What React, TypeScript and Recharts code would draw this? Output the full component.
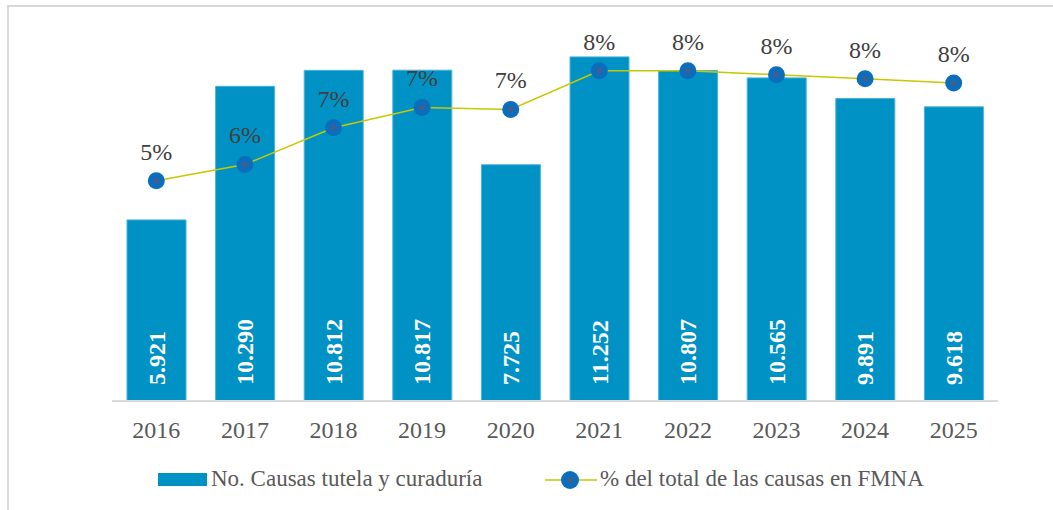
import { ComposedChart, XAxis, YAxis, Bar, Line, LabelList, Legend } from "recharts";

const years = ["2016", "2017", "2018", "2019", "2020", "2021", "2022", "2023", "2024", "2025"];
const causas = [5921, 10290, 10812, 10817, 7725, 11252, 10807, 10565, 9891, 9618];
const porcentaje = [0.054, 0.058, 0.067, 0.072, 0.0715, 0.081, 0.081, 0.08, 0.079, 0.078];

const barName = "No. Causas tutela y curaduría";
const lineName = "% del total de las causas en FMNA";

const data = years.map((year, i) => ({ year, causas: causas[i], pct: porcentaje[i] }));

const FONT = "'Liberation Serif', 'Times New Roman', serif";
const BAR_COLOR = "#0092c5";
const LINE_COLOR = "#c8c800";
const DOT_COLOR = "#0a6ebd";

const fmtMiles = (v: number) => String(v).replace(/\B(?=(\d{3})+(?!\d))/g, ".");

const BarValue = (props: any) => {
  const { x, y, width, height, value } = props;
  const cx = x + width / 2;
  const cy = y + height - 16;
  return (
    <text
      x={cx}
      y={cy}
      transform={`rotate(-90 ${cx} ${cy})`}
      textAnchor="start"
      dominantBaseline="central"
      fill="#fff"
      fontWeight="bold"
      fontSize={24}
      fontFamily={FONT}
    >
      {fmtMiles(value)}
    </text>
  );
};

const PctValue = (props: any) => {
  const { x, y, value } = props;
  return (
    <text x={x} y={y - 21} textAnchor="middle" fill="#404040" fontSize={24} fontFamily={FONT}>
      {Math.round(value * 100) + "%"}
    </text>
  );
};

const Dot = (props: any) => {
  const { cx, cy, index } = props;
  return (
    <g key={`dot-${index}`}>
      <circle cx={cx} cy={cy} r={8.5} fill={DOT_COLOR} />
      <circle cx={cx} cy={cy} r={3} fill="#3f5f8f" />
    </g>
  );
};

const Leyenda = () => (
  <div style={{ position: "relative", width: 1053, height: 30, fontFamily: FONT, fontSize: 23, color: "#595959" }}>
    <div style={{ position: "absolute", left: 158, top: 8, width: 49, height: 13, background: BAR_COLOR }} />
    <span style={{ position: "absolute", left: 211, top: 0, lineHeight: "28px", whiteSpace: "nowrap" }}>{barName}</span>
    <svg style={{ position: "absolute", left: 545, top: 5 }} width={52} height={20}>
      <line x1={0} y1={10} x2={52} y2={10} stroke={LINE_COLOR} strokeWidth={1.5} />
      <circle cx={25} cy={10} r={9} fill={DOT_COLOR} />
      <circle cx={25} cy={10} r={3} fill="#3f5f8f" />
    </svg>
    <span style={{ position: "absolute", left: 600, top: 0, lineHeight: "28px", whiteSpace: "nowrap" }}>{lineName}</span>
  </div>
);

export default function App() {
  return (
    <div style={{ position: "absolute", left: 0, top: 0, width: 1053, height: 510, background: "#fff", overflow: "hidden" }}>
      <div
        style={{
          position: "absolute",
          left: 7,
          top: 5,
          right: -10,
          bottom: -10,
          borderTop: "2px solid #d9d9d9",
          borderLeft: "2px solid #d9d9d9",
        }}
      />
      <ComposedChart
        width={1053}
        height={510}
        data={data}
        margin={{ top: 34, right: 55, bottom: 79, left: 112 }}
        barSize={59}
        style={{ position: "absolute", left: 0, top: 0 }}
      >
        <XAxis
          dataKey="year"
          axisLine={{ stroke: "#d9d9d9", strokeWidth: 2 }}
          tickLine={false}
          tickMargin={14}
          tick={{ fill: "#595959", fontSize: 24, fontFamily: FONT }}
          interval={0}
        />
        <YAxis yAxisId="left" hide domain={[0, 12000]} />
        <YAxis yAxisId="right" hide orientation="right" domain={[0, 0.09]} />
        <Bar
          yAxisId="left"
          dataKey="causas"
          name={barName}
          fill={BAR_COLOR}
          stroke="#4cb2da"
          strokeWidth={1}
          isAnimationActive={false}
        >
          <LabelList dataKey="causas" content={<BarValue />} />
        </Bar>
        <Line
          yAxisId="right"
          dataKey="pct"
          name={lineName}
          type="linear"
          stroke={LINE_COLOR}
          strokeWidth={1.5}
          dot={(p: any) => <Dot {...p} key={`d-${p.index}`} />}
          activeDot={false}
          isAnimationActive={false}
        >
          <LabelList dataKey="pct" content={<PctValue />} />
        </Line>
        <Legend
          layout="horizontal"
          verticalAlign="middle"
          align="center"
          wrapperStyle={{ top: 465, left: 0, width: 1053 }}
          content={() => <Leyenda />}
        />
      </ComposedChart>
    </div>
  );
}
